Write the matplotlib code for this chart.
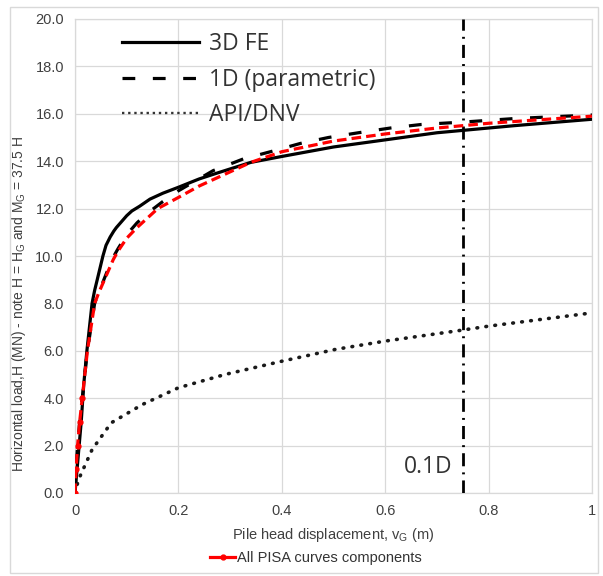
import matplotlib
matplotlib.use('Agg')
import matplotlib.pyplot as plt
from matplotlib.lines import Line2D
from matplotlib.patches import Rectangle

# Load-displacement curves (displacement in m, load in MN)
fe3d_disp = [0, 0.004, 0.008, 0.012, 0.017, 0.023, 0.028, 0.033, 0.038, 0.043, 0.054, 0.06,
             0.068, 0.075, 0.08, 0.09, 0.1, 0.11, 0.125, 0.145, 0.17, 0.2, 0.24, 0.275, 0.34,
             0.4, 0.5, 0.6, 0.7, 0.75, 0.85, 1.0]
fe3d_load = [0, 1, 2, 3, 4.6, 6, 7, 8, 8.55, 9, 10, 10.45,
             10.8, 11.05, 11.2, 11.45, 11.7, 11.9, 12.1, 12.4, 12.65, 12.9, 13.25, 13.5, 13.95,
             14.2, 14.6, 14.9, 15.2, 15.3, 15.5, 15.77]

param_disp = [0, 0.002, 0.005, 0.009, 0.014, 0.019, 0.024, 0.031, 0.038, 0.046, 0.054, 0.065,
              0.074, 0.083, 0.1, 0.12, 0.14, 0.17, 0.2, 0.267, 0.326, 0.378, 0.436, 0.49,
              0.548, 0.61, 0.67, 0.75, 0.85, 1.0]
param_load = [0, 1, 2, 3, 4, 5, 6, 7, 8, 8.5, 8.9, 9.5,
              9.95, 10.3, 10.9, 11.4, 11.8, 12.3, 12.75, 13.6, 14.1, 14.4, 14.75, 15.0,
              15.2, 15.4, 15.55, 15.65, 15.8, 15.95]

api_disp = [0, 0.0067, 0.033, 0.07, 0.13, 0.2, 0.29, 0.4, 0.504, 0.6, 0.748, 0.8, 1.0]
api_load = [0, 0.56, 1.83, 2.96, 3.73, 4.44, 5.0, 5.56, 6.06, 6.41, 6.87, 7.04, 7.6]

pisa_disp = [0, 0.002, 0.005, 0.009, 0.014, 0.019, 0.024, 0.031, 0.038, 0.046, 0.054, 0.065,
             0.074, 0.083, 0.1, 0.12, 0.14, 0.16, 0.2, 0.24, 0.275, 0.34, 0.4, 0.5, 0.6, 0.7,
             0.8, 0.9, 1.0]
pisa_load = [0, 1, 2, 3, 4, 5, 6, 7, 8, 8.45, 8.85, 9.4,
             9.85, 10.2, 10.75, 11.2, 11.6, 12.0, 12.47, 12.95, 13.3, 13.95, 14.4, 14.85, 15.15,
             15.4, 15.6, 15.75, 15.9]

disp_01D = 0.75

x_ticks = [0, 0.2, 0.4, 0.6, 0.8, 1.0]
x_tick_labels = ['0', '0.2', '0.4', '0.6', '0.8', '1']
y_ticks = [0, 2, 4, 6, 8, 10, 12, 14, 16, 18, 20]

plt.rcParams['font.family'] = ['Liberation Sans', 'DejaVu Sans']

fig = plt.figure(figsize=(6.03, 5.76), dpi=100)
ax = fig.add_axes([75 / 603, 1 - 493 / 576, 517 / 603, 474 / 576])

grid_col = '#d9d9d9'
ax.grid(True, color=grid_col, linewidth=0.9, zorder=0)
for s in ax.spines.values():
    s.set_color(grid_col)
    s.set_linewidth(0.9)

l_fe, = ax.plot(fe3d_disp, fe3d_load, color='black', lw=2.3, zorder=3, label='3D FE')
l_par, = ax.plot(param_disp, param_load, color='black', lw=2.3, linestyle=(0, (4, 5.5)),
                 zorder=3, label='1D (parametric)')
ax.plot(api_disp, api_load, color='#1a1a1a', lw=2.6, linestyle=(0, (0.2, 2.3)),
        dash_capstyle='round', zorder=3)
ax.plot(pisa_disp, pisa_load, color='#ff0000', lw=2.3, linestyle=(0, (3, 1.6)),
        marker='o', markersize=3.5, markevery=slice(0, 5), zorder=4)

# legend entry for API/DNV uses a finer dotted line
l_api = Line2D([], [], color='#333333', lw=1.7, linestyle=(0, (1, 1.6)), label='API/DNV')

# 0.1D marker line
ax.axvline(disp_01D, color='black', lw=2, linestyle=(0, (4.7, 2.2, 0.7, 2.2)), zorder=3)
ax.text(disp_01D - 0.02, 1.1, '0.1D', fontsize=16.5, family='Open Sans', color='#333333',
        ha='right', va='center', zorder=5)

ax.set_xlim(0, 1)
ax.set_ylim(0, 20)
ax.set_xticks(x_ticks)
ax.set_xticklabels(x_tick_labels)
ax.set_yticks(y_ticks)
ax.set_yticklabels([f'{v:.1f}' for v in y_ticks])
ax.tick_params(length=0, pad=8, labelsize=10.5, colors='#404040')

ax.set_xlabel(r'Pile head displacement, v$_\mathregular{G}$ (m)', fontsize=10.5, color='#404040',
              labelpad=6)
ax.set_ylabel(r'Horizontal load,H (MN) - note H = H$_\mathregular{G}$ and M$_\mathregular{G}$ = 37.5 H',
              fontsize=10, color='#404040')
ax.yaxis.set_label_coords(-0.09, 0.40)

leg = ax.legend(handles=[l_fe, l_par, l_api], loc='upper left', bbox_to_anchor=(0.09, 0.972),
                frameon=False, prop={'family': 'Open Sans', 'size': 16.5}, handlelength=3.4,
                handletextpad=0.42, labelspacing=0.5, borderpad=0, borderaxespad=0)
for t in leg.get_texts():
    t.set_color('#333333')

pisa_handle = Line2D([], [], color='#ff0000', lw=2.3, marker='o', markersize=3.5)
fig.legend(handles=[pisa_handle], labels=['All PISA curves components'], loc='center',
           bbox_to_anchor=(316 / 603, 1 - 558 / 576), frameon=False, fontsize=10.5,
           handlelength=1.7, handletextpad=0.1, numpoints=1, labelcolor='#333333')

# outer chart frame
fig.patches.append(Rectangle((10 / 603, 1 - 573 / 576), 588 / 603, 566 / 576,
                             transform=fig.transFigure, fill=False,
                             edgecolor=grid_col, linewidth=1))

fig.savefig('out.png', dpi=100)
